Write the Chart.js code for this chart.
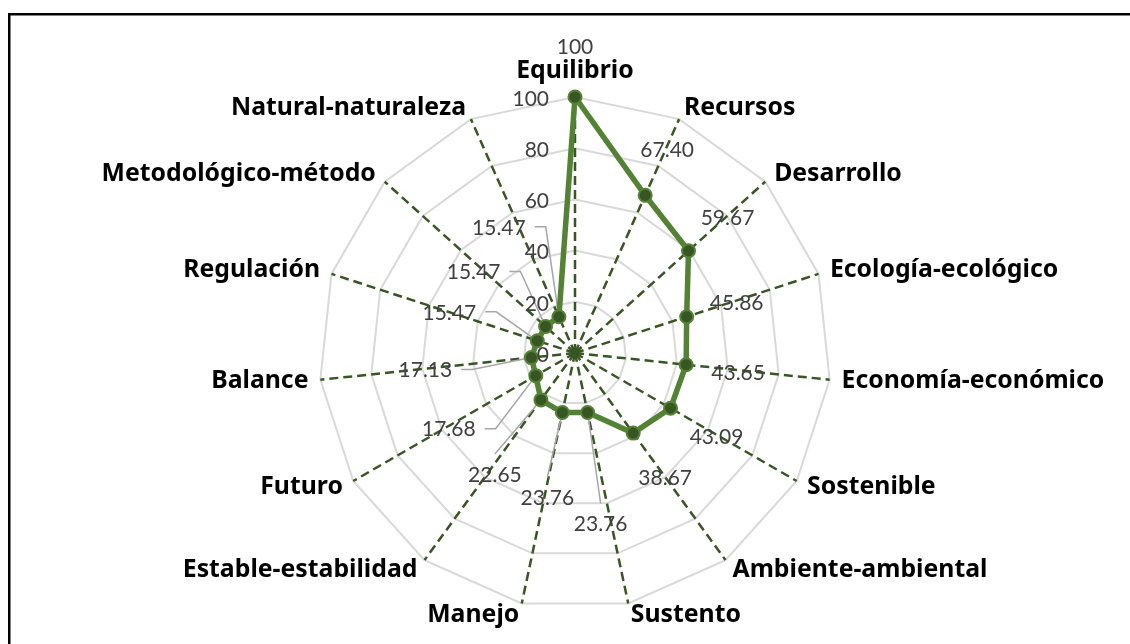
<!DOCTYPE html>
<html>
<head>
<meta charset="utf-8">
<script src="https://cdn.jsdelivr.net/npm/chart.js@4"></script>
<style>
html,body{margin:0;padding:0;background:#ffffff;}
#wrap{width:1130px;height:644px;position:relative;}
</style>
</head>
<body>
<div id="wrap"><canvas id="c" width="1130" height="644"></canvas></div>
<script>
// ---- data ----
const categories = ['Equilibrio','Recursos','Desarrollo','Ecología-ecológico','Economía-económico','Sostenible','Ambiente-ambiental','Sustento','Manejo','Estable-estabilidad','Futuro','Balance','Regulación','Metodológico-método','Natural-naturaleza'];
const values = [100, 67.40, 59.67, 45.86, 43.65, 43.09, 38.67, 23.76, 23.76, 22.65, 17.68, 17.13, 15.47, 15.47, 15.47];
const valueLabels = ['100','67.40','59.67','45.86','43.65','43.09','38.67','23.76','23.76','22.65','17.68','17.13','15.47','15.47','15.47'];
const tickValues = [0, 20, 40, 60, 80, 100];

// ---- label layout (pixel offsets of value labels from their points) ----
const labelDx = [0, 22, 39, 50, 52, 46, 32, 13, -15, -46, -87, -106, -88, -72, -60];
const labelDy = [-50, -45, -33, -13, 9, 29, 45, 112, 86, 75, 54, 13, -28, -54, -89];
const leaderType = [null, null, null, null, null, null, null, 'top', 'top', 'top', 'side', 'side', 'side', 'side', 'side'];

const LABEL_FONT = '21px Lato';
const CAT_FONT = 'bold 24.8px "Noto Sans"';

const decor = {
  id: 'decor',
  beforeDraw(chart) {
    const ctx = chart.ctx;
    ctx.save();
    ctx.fillStyle = '#fff';
    ctx.fillRect(0, 0, chart.width, chart.height);
    ctx.fillStyle = '#000';
    ctx.fillRect(8, 13, chart.width, 2.5);
    ctx.fillRect(8, 13, 2.5, chart.height);
    ctx.restore();
  },
  beforeDatasetsDraw(chart) {
    const ctx = chart.ctx;
    const meta = chart.getDatasetMeta(0);
    ctx.save();
    ctx.font = LABEL_FONT;
    ctx.strokeStyle = '#a6a6a6';
    ctx.lineWidth = 1.5;
    meta.data.forEach((pt, i) => {
      const t = leaderType[i];
      if (!t) return;
      const lx = pt.x + labelDx[i], ly = pt.y + labelDy[i];
      const w = ctx.measureText(valueLabels[i]).width;
      ctx.beginPath();
      ctx.moveTo(pt.x, pt.y);
      if (t === 'top') {
        ctx.lineTo(lx, ly - 21);
      } else {
        const right = lx + w / 2;
        ctx.lineTo(right + 20, ly - 1);
        ctx.lineTo(right + 9, ly - 1);
      }
      ctx.stroke();
    });
    ctx.restore();
  },
  afterDatasetsDraw(chart) {
    const ctx = chart.ctx;
    const scale = chart.scales.r;
    const meta = chart.getDatasetMeta(0);
    const cx = scale.xCenter, cy = scale.yCenter;
    ctx.save();
    // tick labels
    ctx.font = LABEL_FONT;
    ctx.fillStyle = '#404040';
    ctx.textAlign = 'right';
    ctx.textBaseline = 'middle';
    tickValues.forEach(v => {
      const d = scale.getDistanceFromCenterForValue(v);
      ctx.fillText(String(v), cx - 26, cy - d + 2);
    });
    // value labels
    ctx.textAlign = 'center';
    meta.data.forEach((pt, i) => {
      ctx.fillText(valueLabels[i], pt.x + labelDx[i], pt.y + labelDy[i]);
    });
    // category labels
    ctx.font = CAT_FONT;
    ctx.fillStyle = '#000';
    const R = scale.drawingArea + 12;
    categories.forEach((c, i) => {
      const p = scale.getPointPosition(i, R);
      let align = 'center';
      let y = p.y;
      if (p.x > cx + 1) align = 'left';
      else if (p.x < cx - 1) align = 'right';
      else y = p.y - 14;
      ctx.textAlign = align;
      ctx.fillText(c, p.x, y);
    });
    ctx.restore();
  }
};

new Chart(document.getElementById('c'), {
  type: 'radar',
  data: {
    labels: categories,
    datasets: [{
      data: values,
      borderColor: '#548235',
      borderWidth: 5.5,
      pointRadius: 6.5,
      pointBackgroundColor: '#375623',
      pointBorderColor: '#548235',
      pointBorderWidth: 2,
      fill: false,
      clip: false,
      tension: 0
    }]
  },
  options: {
    responsive: false,
    animation: false,
    devicePixelRatio: 1,
    layout: { padding: { top: 97, bottom: 35, left: 20, right: 0 } },
    plugins: { legend: { display: false }, tooltip: { enabled: false } },
    scales: {
      r: {
        min: 0,
        max: 100,
        ticks: { stepSize: 20, display: false },
        grid: { color: '#d9d9d9', lineWidth: 2, circular: false },
        angleLines: { display: true, color: '#375623', lineWidth: 2.5, borderDash: [9, 5] },
        pointLabels: { display: false }
      }
    }
  },
  plugins: [decor]
});
</script>
</body>
</html>
